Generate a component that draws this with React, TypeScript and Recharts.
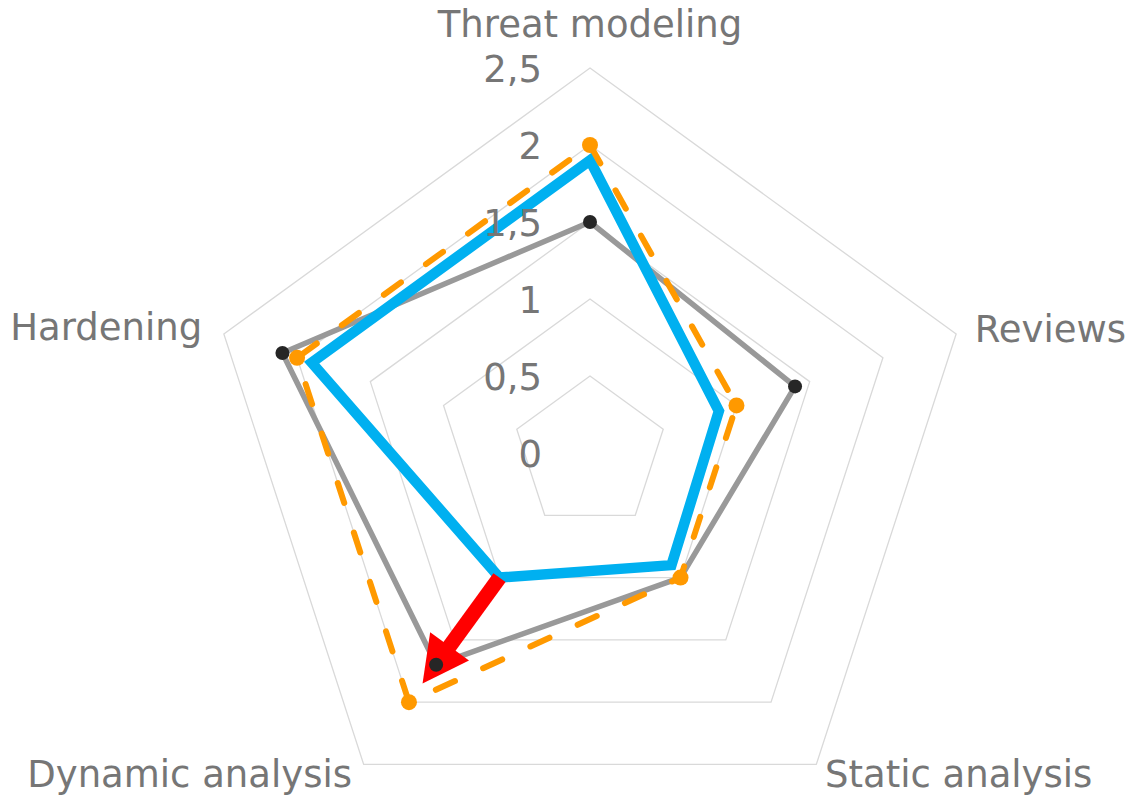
import { RadarChart, Radar, PolarGrid, PolarAngleAxis, PolarRadiusAxis } from 'recharts'

const categories = ['Threat modeling', 'Reviews', 'Static analysis', 'Dynamic analysis', 'Hardening']
const baselineValues = [1.5, 1.4, 1.0, 1.7, 2.1]
const targetValues = [2.0, 1.0, 1.0, 2.0, 2.0]
const currentValues = [1.9, 0.88, 0.9, 1.0, 1.9]
// arrow drawn along the Dynamic analysis axis
const arrowFrom = [null, null, null, 1.0, null]
const arrowTo = [0, 0, 0, 1.85, 0]
const radiusTicks = [0, 0.5, 1, 1.5, 2, 2.5]

const data = categories.map((axis, i) => ({
  axis,
  baseline: baselineValues[i],
  target: targetValues[i],
  current: currentValues[i],
  arrowFrom: arrowFrom[i],
  arrowTo: arrowTo[i],
}))

const FONT = '"DejaVu Sans", sans-serif'
const TEXT = '#767676'

// label offsets relative to the tick anchor point, per category
const labelPlacement: Record<string, { dx: number; dy: number; anchor: 'start' | 'middle' | 'end' }> = {
  'Threat modeling': { dx: 0, dy: -23, anchor: 'middle' },
  Reviews: { dx: 11, dy: 10, anchor: 'start' },
  'Static analysis': { dx: 4, dy: 16, anchor: 'start' },
  'Dynamic analysis': { dx: -7, dy: 16, anchor: 'end' },
  Hardening: { dx: -14, dy: 8, anchor: 'end' },
}

function angleTick({ x, y, payload }: { x: number; y: number; payload: { value: string } }) {
  const p = labelPlacement[payload.value] ?? { dx: 0, dy: 0, anchor: 'middle' }
  return (
    <text x={x + p.dx} y={y + p.dy} textAnchor={p.anchor} fill={TEXT} fontSize={37} fontFamily={FONT}>
      {payload.value}
    </text>
  )
}

function radiusTick({ x, y, payload }: { x: number; y: number; payload: { value: number } }) {
  return (
    <text x={x - 48} y={y + 14} textAnchor="end" fill={TEXT} fontSize={37} fontFamily={FONT}>
      {String(payload.value).replace('.', ',')}
    </text>
  )
}

function ArrowShape(props: any) {
  const pt = (props.points || []).find((p: any) => p.payload.arrowFrom != null)
  if (!pt) return <g />
  const ratio = pt.payload.arrowFrom / pt.value
  const sx = pt.cx + (pt.x - pt.cx) * ratio
  const sy = pt.cy + (pt.y - pt.cy) * ratio
  const len = Math.hypot(pt.x - sx, pt.y - sy)
  const ux = (pt.x - sx) / len
  const uy = (pt.y - sy) / len
  const headLen = 46
  const headHalf = 24
  const bx = pt.x - ux * headLen
  const by = pt.y - uy * headLen
  return (
    <g>
      <line x1={sx} y1={sy} x2={bx + ux * 2} y2={by + uy * 2} stroke="#ff0000" strokeWidth={15} />
      <polygon
        points={`${pt.x},${pt.y} ${bx - uy * headHalf},${by + ux * headHalf} ${bx + uy * headHalf},${by - ux * headHalf}`}
        fill="#ff0000"
      />
    </g>
  )
}

export default function App() {
  return (
    <div style={{ position: 'absolute', left: 0, top: 0, background: '#fff' }}>
      <RadarChart
        width={1138}
        height={800}
        data={data}
        cx={590}
        cy={453}
        outerRadius={385}
        margin={{ top: 0, right: 0, bottom: 0, left: 0 }}
      >
        <PolarGrid gridType="polygon" radialLines={false} stroke="#d9d9d9" strokeWidth={1.3} />
        <PolarAngleAxis
          dataKey="axis"
          tick={angleTick as any}
          tickLine={false}
          axisLine={false}
        />
        <PolarRadiusAxis
          angle={90}
          type="number"
          domain={[0, 2.5]}
          allowDecimals
          allowDataOverflow
          ticks={radiusTicks as any}
          tickCount={6}
          tick={radiusTick as any}
          axisLine={false}
          tickLine={false}
        />
        <Radar
          dataKey="baseline"
          stroke="#999999"
          strokeWidth={5.5}
          fill="none"
          strokeLinejoin="round"
          dot={{ r: 7, fill: '#262626', stroke: 'none' }}
          isAnimationActive={false}
        />
        <Radar
          dataKey="current"
          stroke="#00b0f0"
          strokeWidth={10.5}
          fill="none"
          dot={false}
          isAnimationActive={false}
        />
        <Radar
          dataKey="target"
          stroke="#ff9900"
          strokeWidth={6}
          strokeDasharray="21 31"
          strokeLinecap="round"
          fill="none"
          dot={{ r: 8, fill: '#ff9900', stroke: 'none', strokeDasharray: '0' }}
          isAnimationActive={false}
        />
        <Radar
          dataKey="arrowTo"
          stroke="none"
          fill="none"
          dot={false}
          shape={ArrowShape}
          isAnimationActive={false}
        />
      </RadarChart>
    </div>
  )
}
